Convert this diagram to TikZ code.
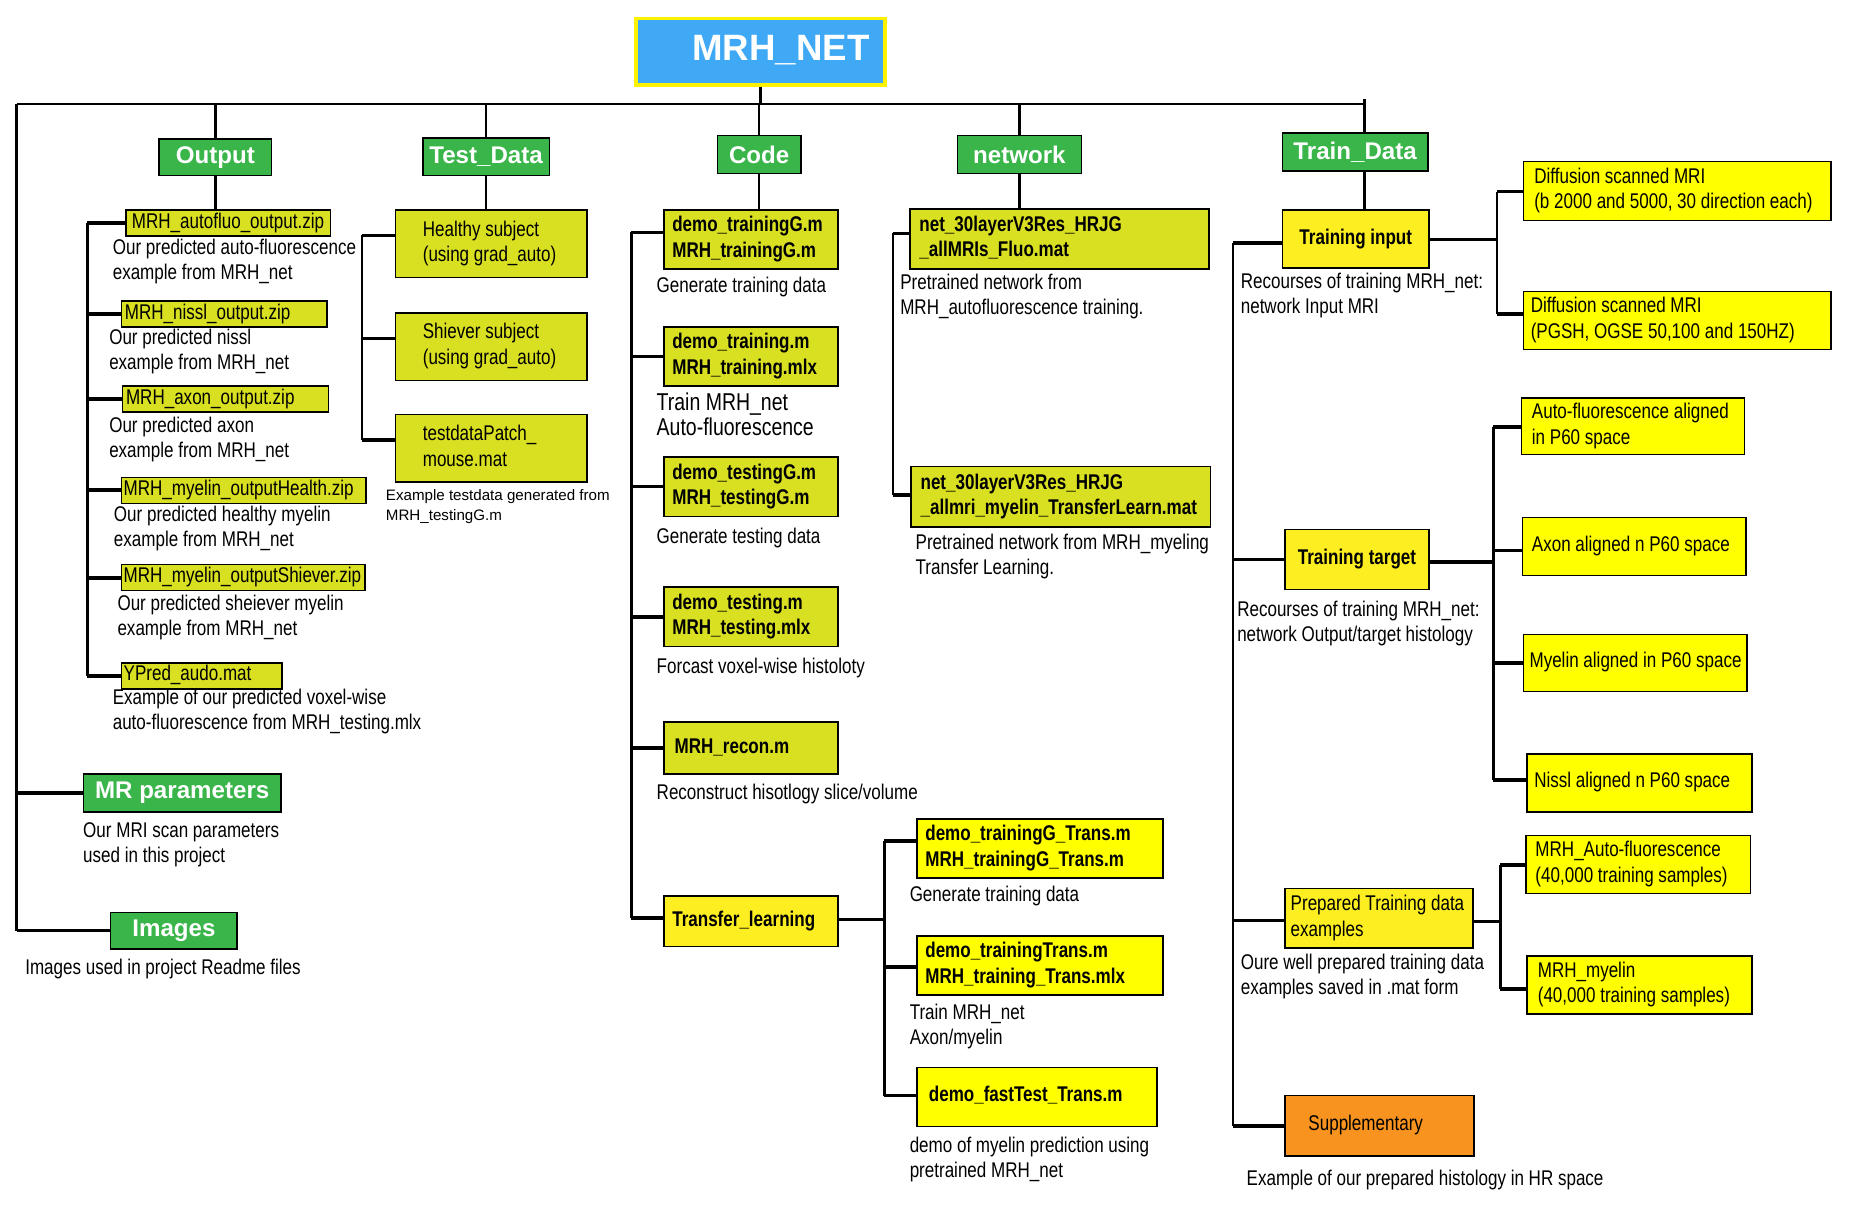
\documentclass[tikz,border=0pt]{standalone}
\usepackage{fontspec}
\setmainfont{Liberation Sans}[FakeStretch=0.8]
\newfontfamily\widefont{Liberation Sans}
\usetikzlibrary{calc}
\definecolor{olv}{HTML}{D9E021}
\definecolor{yelA}{HTML}{FFFF00}
\definecolor{yelB}{HTML}{FCEE21}
\definecolor{grn}{HTML}{39B54A}
\definecolor{blu}{HTML}{3FA9F5}
\definecolor{org}{HTML}{F7931E}
\newcommand\mybx[8][]{%
 \pgfmathsetmacro\bw{(#5-#3)*0.5}%
 \pgfmathsetmacro\bh{(#6-#4)*0.5}%
 \pgfmathsetmacro\bi{#7*0.5}%
 \node[bx,#1,minimum height=\bh pt,anchor=north west] (#2) at (#3,#4) {\makebox[\bw pt][l]{\hspace*{\bi pt}\begin{tabular}{@{}l@{}}#8\end{tabular}}};}
\newcommand\mycb[7][]{%
 \pgfmathsetmacro\bw{(#5-#3)*0.5}%
 \pgfmathsetmacro\bh{(#6-#4)*0.5}%
 \node[#1,minimum width=\bw pt,minimum height=\bh pt,anchor=north west,inner sep=0pt] (#2) at (#3,#4) {#7};}
\newcommand\myds[4][]{\node[ds,#1,anchor=base west,yshift=-2.5pt] (#2) at (#3) {\begin{tabular}[t]{@{}l@{}}#4\end{tabular}};}
\newcommand\mytick[3]{\coordinate (#1-k) at ($(#1.north west)!#2!(#1.south west)$); \draw[tk] (#1-k) -- (#3 |- #1-k);}
\newcommand\myrtick[3]{\coordinate (#1-r) at ($(#1.north east)!#2!(#1.south east)$); \draw[tk] (#1-r) -- (#3 |- #1-r);}
\begin{document}
\begin{tikzpicture}[x=0.5pt,y=-0.5pt,
 bx/.style={draw=black,line width=0.6pt,inner sep=0pt,font=\fontsize{9}{10.8}\selectfont},
 bb/.style={font=\bfseries\fontsize{9}{10.8}\selectfont},
 hdr/.style={fill=grn,draw=black,line width=0.6pt,text=white,font=\widefont\bfseries\fontsize{10.2}{12}\selectfont},
 ds/.style={inner sep=0pt,font=\fontsize{9}{10.6}\selectfont},
 ln/.style={line width=1pt},
 tk/.style={line width=1.5pt}]
\useasboundingbox (0,0) rectangle (1568,1024);
% root
\mybx[fill=blu,draw=yellow,line width=1.6pt,text=white,font=\widefont\bfseries\fontsize{15.5}{18}\selectfont]{root}{536}{14}{747}{70}{48}{MRH\_NET}
% headers
\mycb[hdr]{hout}{134}{117}{229}{148}{Output}
\mycb[hdr]{htest}{357}{116}{464}{148}{Test\_Data}
\mycb[hdr]{hcode}{606}{114}{677}{146}{Code}
\mycb[hdr]{hnet}{809}{114}{914}{146}{network}
\mycb[hdr]{htrain}{1084}{112}{1207}{144}{Train\_Data}
\mycb[hdr]{hmr}{70}{654}{237}{686}{MR parameters}
\mycb[hdr]{himg}{93}{771}{200}{802}{Images}
% output files
\mybx[fill=olv]{o1}{106}{177}{279}{199}{5}{MRH\_autofluo\_output.zip}
\mybx[fill=olv]{o2}{102}{254}{276}{276}{3}{MRH\_nissl\_output.zip}
\mybx[fill=olv]{o3}{103}{326}{277}{348}{3}{MRH\_axon\_output.zip}
\mybx[fill=olv]{o4}{102}{403}{309}{425}{2}{MRH\_myelin\_outputHealth.zip}
\mybx[fill=olv]{o5}{102}{477}{308}{499}{2}{MRH\_myelin\_outputShiever.zip}
\mybx[fill=olv]{o6}{102}{560}{238}{582}{2}{YPred\_audo.mat}
\myds{do1}{95,210}{Our predicted auto-fluorescence\\example from MRH\_net}
\myds{do2}{92,286}{Our predicted nissl\\example from MRH\_net}
\myds{do3}{92,361}{Our predicted axon\\example from MRH\_net}
\myds{do4}{96,436}{Our predicted healthy myelin\\example from MRH\_net}
\myds{do5}{99,511}{Our predicted sheiever myelin\\example from MRH\_net}
\myds{do6}{95,591}{Example of our predicted voxel-wise\\auto-fluorescence from MRH\_testing.mlx}
% test data
\mybx[fill=olv]{t1}{334}{177}{496}{234}{23}{Healthy subject\\(using grad\_auto)}
\mybx[fill=olv]{t2}{334}{264}{496}{321}{23}{Shiever subject\\(using grad\_auto)}
\mybx[fill=olv]{t3}{334}{350}{496}{407}{23}{testdataPatch\_\\mouse.mat}
\myds[font=\widefont\fontsize{6.4}{8.5}\selectfont]{dt3}{326,418}{Example testdata generated from\\MRH\_testingG.m}
% code
\mybx[fill=olv,bb]{c1}{561}{177}{708}{227}{7}{demo\_trainingG.m\\MRH\_trainingG.m}
\mybx[fill=olv,bb]{c2}{561}{276}{708}{326}{7}{demo\_training.m\\MRH\_training.mlx}
\mybx[fill=olv,bb]{c3}{561}{386}{708}{436}{7}{demo\_testingG.m\\MRH\_testingG.m}
\mybx[fill=olv,bb]{c4}{561}{496}{708}{546}{7}{demo\_testing.m\\MRH\_testing.mlx}
\mybx[fill=olv,bb]{c5}{561}{610}{708}{654}{9}{MRH\_recon.m}
\mybx[fill=yelB,bb]{c6}{561}{757}{708}{800}{7}{Transfer\_learning}
\myds{dc1}{555,242}{Generate training data}
\myds[font=\fontsize{10.3}{10.6}\selectfont]{dc2}{555,342}{Train MRH\_net\\Auto-fluorescence}
\myds{dc3}{555,455}{Generate testing data}
\myds{dc4}{555,565}{Forcast voxel-wise histoloty}
\myds{dc5}{555,671}{Reconstruct hisotlogy slice/volume}
% transfer
\mybx[fill=yelA,bb]{r1}{775}{692}{983}{742}{7}{demo\_trainingG\_Trans.m\\MRH\_trainingG\_Trans.m}
\mybx[fill=yelA,bb]{r2}{775}{791}{983}{841}{7}{demo\_trainingTrans.m\\MRH\_training\_Trans.mlx}
\mybx[fill=yelA,bb]{r3}{775}{902}{978}{952}{10}{demo\_fastTest\_Trans.m}
\myds{dr1}{769,757}{Generate training data}
\myds{dr2}{769,857}{Train MRH\_net\\Axon/myelin}
\myds{dr3}{769,970}{demo of myelin prediction using\\pretrained MRH\_net}
% network
\mybx[fill=olv,bb]{n1}{769}{176}{1022}{227}{8}{net\_30layerV3Res\_HRJG\\\_allMRIs\_Fluo.mat}
\mybx[fill=olv,bb]{n2}{770}{394}{1023}{445}{8}{net\_30layerV3Res\_HRJG\\\_allmri\_myelin\_TransferLearn.mat}
\myds{dn1}{761,240}{Pretrained network from\\MRH\_autofluorescence training.}
\myds{dn2}{774,460}{Pretrained network from MRH\_myeling\\Transfer Learning.}
% train data
\mycb[bx,fill=yelB,bb]{ti}{1084}{177}{1208}{226}{Training input}
\mycb[bx,fill=yelB,bb]{tt}{1086}{447}{1208}{498}{Training target}
\mybx[fill=yelB]{tp}{1086}{751}{1245}{801}{5}{Prepared Training data\\examples}
\mybx[fill=org]{ts}{1086}{926}{1246}{977}{20}{Supplementary}
\myds{dti}{1049,239}{Recourses of training MRH\_net:\\network Input MRI}
\myds{dtt}{1046,516}{Recourses of training MRH\_net:\\network Output/target histology}
\myds{dtp}{1049,815}{Oure well prepared training data\\examples saved in .mat form}
\myds{dts}{1054,998}{Example of our prepared histology in HR space}
\mybx[fill=yelA]{a1}{1288}{136}{1548}{186}{9}{Diffusion scanned MRI\\(b 2000 and 5000, 30 direction each)}
\mybx[fill=yelA]{a2}{1288}{246}{1548}{295}{6}{Diffusion scanned MRI\\(PGSH, OGSE 50,100 and 150HZ)}
\mybx[fill=yelA]{b1}{1286}{336}{1475}{384}{9}{Auto-fluorescence aligned\\in P60 space}
\mybx[fill=yelA]{b2}{1287}{437}{1476}{486}{8}{Axon aligned n P60 space}
\mybx[fill=yelA]{b3}{1288}{536}{1477}{584}{5}{Myelin aligned in P60 space}
\mybx[fill=yelA]{b4}{1291}{637}{1481}{686}{6}{Nissl aligned n P60 space}
\mybx[fill=yelA]{p1}{1290}{706}{1480}{755}{8}{MRH\_Auto-fluorescence\\(40,000 training samples)}
\mybx[fill=yelA]{p2}{1291}{808}{1481}{857}{9}{MRH\_myelin\\(40,000 training samples)}
% MR / images descriptions
\myds{dmr}{70,703}{Our MRI scan parameters\\used in this project}
\myds{dimg}{21,819}{Images used in project Readme files}
% ---------- connectors ----------
\coordinate (busL) at (14,88);
\coordinate (busR) at (1154,88);
\draw[ln] (root.south) -- (root.south |- busL);
\draw[ln] (busL) -- (busR);
\draw[ln] (busL) -- (busL |- himg.west);
\draw[tk] (busL |- himg.west) -- (himg.west);
\draw[tk] (busL |- hmr.west) -- (hmr.west);
\foreach \h in {hout,htest,hcode,hnet} \draw[ln] (\h.north |- busL) -- (\h.north);
\draw[ln] ([yshift=2pt]busR) -- (busR |- htrain.north);
% output
\draw[ln] (hout.south) -- (hout.south |- o1.north);
\coordinate (ob) at (74,0);
\foreach \n in {o1,o2,o3,o4,o5,o6} {\mytick{\n}{0.5}{ob}}
\draw[ln] (ob |- o1-k) -- (ob |- o6-k);
% test
\draw[ln] (htest.south) -- (htest.south |- t1.north);
\coordinate (tb) at (306,0);
\foreach \n in {t1,t2,t3} {\mytick{\n}{0.38}{tb}}
\draw[ln] (tb |- t1-k) -- (tb |- t3-k);
% code
\draw[ln] (hcode.south) -- (hcode.south |- c1.north);
\coordinate (cb) at (534,0);
\mytick{c1}{0.38}{cb}
\foreach \n in {c2,c3,c4,c5} {\mytick{\n}{0.5}{cb}}
\mytick{c6}{0.44}{cb}
\draw[ln] (cb |- c1-k) -- (cb |- c6-k);
\coordinate (rb) at (748,0);
\myrtick{c6}{0.47}{rb}
\mytick{r1}{0.38}{rb}
\mytick{r2}{0.52}{rb}
\mytick{r3}{0.48}{rb}
\draw[ln] (rb |- r1-k) -- (rb |- r3-k);
% network
\draw[ln] (hnet.south) -- (hnet.south |- n1.north);
\coordinate (nb) at (755,0);
\mytick{n1}{0.41}{nb}
\mytick{n2}{0.47}{nb}
\draw[ln] (nb |- n1-k) -- (nb |- n2-k);
% train data
\draw[ln] (busR |- htrain.south) -- (busR |- ti.north);
\coordinate (gb) at (1043,0);
\mytick{ti}{0.57}{gb}
\mytick{tt}{0.5}{gb}
\mytick{tp}{0.54}{gb}
\mytick{ts}{0.5}{gb}
\draw[ln] (gb |- ti-k) -- (gb |- ts-k);
\coordinate (ib) at (1266,0);
\myrtick{ti}{0.51}{ib}
\mytick{a1}{0.51}{ib}
\mytick{a2}{0.39}{ib}
\draw[ln] (ib |- a1-k) -- (ib |- a2-k);
\coordinate (hb) at (1263,0);
\myrtick{tt}{0.54}{hb}
\mytick{b1}{0.51}{hb}
\mytick{b2}{0.57}{hb}
\mytick{b3}{0.5}{hb}
\mytick{b4}{0.45}{hb}
\draw[ln] (hb |- b1-k) -- (hb |- b4-k);
\coordinate (pb) at (1269,0);
\myrtick{tp}{0.55}{pb}
\mytick{p1}{0.51}{pb}
\mytick{p2}{0.57}{pb}
\draw[ln] (pb |- p1-k) -- (pb |- p2-k);
\end{tikzpicture}
\end{document}
